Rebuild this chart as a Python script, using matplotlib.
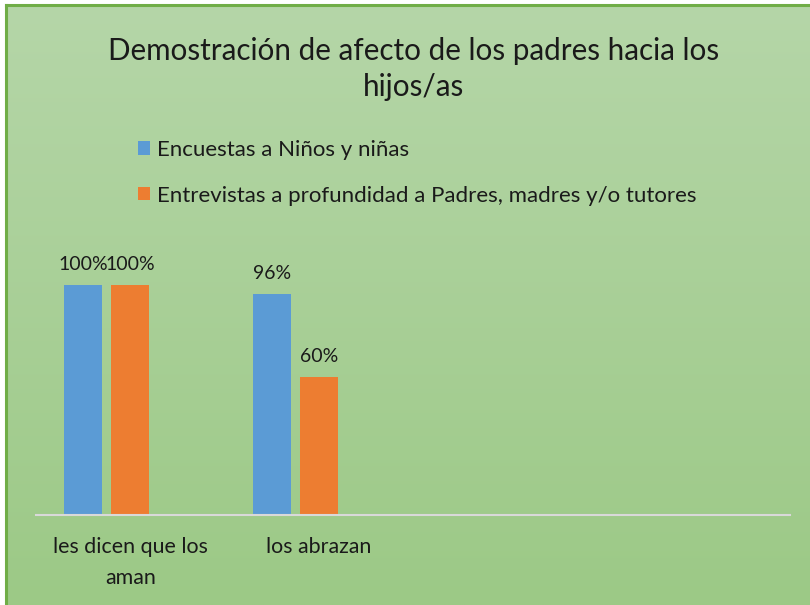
import matplotlib
matplotlib.use("Agg")
import matplotlib.pyplot as plt
import numpy as np

plt.rcParams['font.family'] = ['Lato', 'DejaVu Sans']

# data
categories = ["les dicen que los\naman", "los abrazan", "", ""]
series_names = ["Encuestas a Niños y niñas",
                "Entrevistas a profundidad a Padres, madres y/o tutores"]
ninos = [1.00, 0.96, np.nan, np.nan]
padres = [1.00, 0.60, np.nan, np.nan]
colors = ["#5b9bd5", "#ed7d31"]
title = "Demostración de afecto de los padres hacia los\nhijos/as"

txt = "#1a1a1a"

fig = plt.figure(figsize=(8.1, 6.05), dpi=100)
fig.patch.set_facecolor("white")

# gradient background panel with green border on top / left
W, H = 810, 605
bg = fig.add_axes([6 / W, 0, 1 - 6 / W, 1 - 5 / H])
top = np.array([181, 214, 168]) / 255
bot = np.array([156, 201, 134]) / 255
t = np.linspace(0, 1, 256)[:, None]
grad = top * (1 - t[..., None]) + bot * t[..., None]
grad = np.repeat(grad, 4, axis=1)
bg.imshow(grad, aspect="auto", extent=[0, 1, 0, 1])
bg.set_axis_off()
fig.add_artist(plt.Line2D([6 / W, 1], [1 - 5 / H, 1 - 5 / H], color="#70ad47", lw=2.2))
fig.add_artist(plt.Line2D([6 / W, 6 / W], [0, 1 - 5 / H], color="#70ad47", lw=2.2))

ax = fig.add_axes([36 / W, 90 / H, 754 / W, 276 / H])
ax.set_facecolor("none")

x = np.arange(len(categories))
width = 0.2016
offset = 0.249
for i, (vals, c, name) in enumerate(zip([ninos, padres], colors, series_names)):
    pos = x + (i - 1) * offset
    bars = ax.bar(pos, vals, width, color=c, label=name)
    for xp, v in zip(pos, vals):
        if not np.isnan(v):
            ax.annotate(f"{v:.0%}", (xp, v), xytext=(0, 9), textcoords="offset points",
                        ha="center", va="bottom", fontsize=14, color=txt)

ax.set_xlim(-0.5, len(categories) - 0.5)
ax.set_ylim(0, 1.2)
ax.set_yticks([])
ax.set_xticks(x)
ax.set_xticklabels(categories, fontsize=15.4, color=txt, linespacing=1.7)
ax.tick_params(axis="x", length=0, pad=16)
for s in ["top", "right", "left"]:
    ax.spines[s].set_visible(False)
ax.spines["bottom"].set_color("#d9d9d9")
ax.spines["bottom"].set_linewidth(1.5)

fig.text(414 / W, 1 - 69 / H, title, ha="center", va="center", fontsize=21.3,
         color=txt, linespacing=1.35)

leg = fig.legend(loc="upper left", bbox_to_anchor=(118 / W, 1 - 120 / H), frameon=False,
                 fontsize=16, handlelength=0.55, handleheight=0.55, handletextpad=0.3,
                 labelspacing=1.15, labelcolor=txt)

fig.savefig("out.png", dpi=100)
